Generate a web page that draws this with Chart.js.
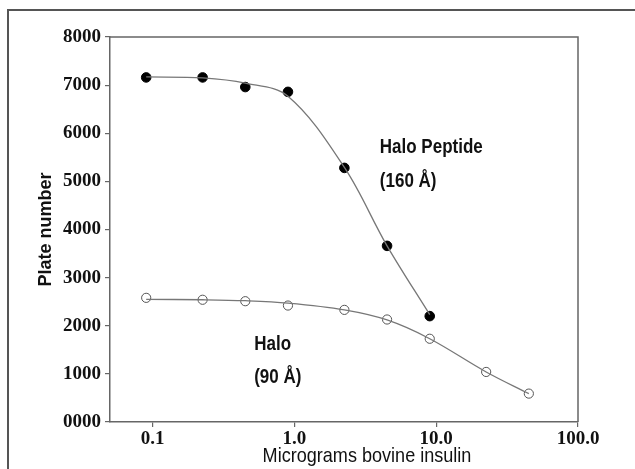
<!DOCTYPE html>
<html><head><meta charset="utf-8">
<script src="https://cdn.jsdelivr.net/npm/chart.js@4.4.1/dist/chart.umd.min.js"></script>
<style>
html,body{margin:0;padding:0;background:#fff;overflow:hidden}
#wrap{position:relative;width:635px;height:469px;overflow:hidden}
#frame{position:absolute;left:7px;top:9px;width:700px;height:600px;border-left:2px solid #555;border-top:2px solid #555;pointer-events:none}
canvas{position:absolute;left:0;top:0}
</style></head><body>
<div id="wrap"><canvas id="c" width="635" height="469"></canvas><div id="frame"></div></div>
<script>
// ---- data ----
const peptideX = [0.09, 0.225, 0.45, 0.9, 2.25, 4.5, 9.0];
const peptideMeasured = [7160, 7160, 6960, 6860, 5280, 3660, 2200];
const peptideFit = [7170, 7150, 7040, 6770, 5290, 3660, 2230];
const haloX = [0.09, 0.225, 0.45, 0.9, 2.25, 4.5, 9.0, 22.5, 45];
const haloMeasured = [2580, 2540, 2510, 2420, 2330, 2130, 1730, 1040, 590];
const haloFit = [2550, 2540, 2520, 2470, 2330, 2120, 1730, 1040, 590];
const xTickValues = [0.1, 1, 10, 100];
const xTickLabels = ['0.1', '1.0', '10.0', '100.0'];
const yTickValues = [0, 1000, 2000, 3000, 4000, 5000, 6000, 7000, 8000];
const yTickLabels = ['0000', '1000', '2000', '3000', '4000', '5000', '6000', '7000', '8000'];
const annotationTexts = ['Halo Peptide', '(160 Å)', 'Halo', '(90 Å)'];
const xTitle = 'Micrograms bovine insulin';
const yTitle = 'Plate number';

const pts = (xs, ys) => xs.map((x, i) => ({x: x, y: ys[i]}));

const SANS = '"Liberation Sans",Arial,sans-serif';
const SERIF = '"Liberation Serif","DejaVu Serif",serif';

// draws text narrowed horizontally to imitate the condensed face of the original
function condensedText(ctx, text, x, y, font, align, squeeze) {
  ctx.save();
  ctx.font = font;
  ctx.textAlign = align;
  ctx.textBaseline = 'middle';
  ctx.translate(x, y);
  ctx.scale(squeeze, 1);
  ctx.fillText(text, 0, 0);
  ctx.restore();
}

const frameAndText = {
  id: 'frameAndText',
  afterDraw(chart) {
    const {ctx, chartArea: a, scales} = chart;
    ctx.save();
    ctx.strokeStyle = '#666';
    ctx.lineWidth = 1.5;
    ctx.beginPath();
    ctx.moveTo(a.left, a.top); ctx.lineTo(a.right, a.top); ctx.lineTo(a.right, a.bottom);
    ctx.stroke();
    ctx.fillStyle = '#111';
    // annotations anchored in data space
    const anchors = [[4.0, 5700], [4.0, 4990], [0.52, 1620], [0.52, 935]];
    annotationTexts.forEach((t, i) => {
      condensedText(ctx, t, scales.x.getPixelForValue(anchors[i][0]), scales.y.getPixelForValue(anchors[i][1]),
                    'bold 20px ' + SANS, 'left', 0.85);
    });
    // x axis title
    condensedText(ctx, xTitle, (a.left + a.right) / 2 + 23, 456, '500 21px ' + SANS, 'center', 0.86);
    ctx.restore();
  }
};

new Chart(document.getElementById('c'), {
  type: 'scatter',
  data: {
    datasets: [
      {label: 'Halo Peptide fit', data: pts(peptideX, peptideFit), showLine: true, tension: 0.35,
       borderColor: '#777', borderWidth: 1.3, pointRadius: 0, fill: false},
      {label: 'Halo fit', data: pts(haloX, haloFit), showLine: true, tension: 0.35,
       borderColor: '#777', borderWidth: 1.3, pointRadius: 0, fill: false},
      {label: 'Halo Peptide (160 Å)', data: pts(peptideX, peptideMeasured), showLine: false,
       pointRadius: 4.8, backgroundColor: '#000', borderColor: '#000', borderWidth: 1},
      {label: 'Halo (90 Å)', data: pts(haloX, haloMeasured), showLine: false,
       pointRadius: 4.6, backgroundColor: '#fff', borderColor: '#555', borderWidth: 1}
    ]
  },
  options: {
    responsive: false,
    devicePixelRatio: 1,
    animation: false,
    layout: {padding: {top: 37, right: 57, left: 0, bottom: 0}},
    plugins: {legend: {display: false}, tooltip: {enabled: false}},
    scales: {
      x: {
        type: 'logarithmic', min: 0.05, max: 100,
        afterBuildTicks: s => { s.ticks = xTickValues.map(v => ({value: v})); },
        afterFit: s => { s.height = 47; },
        ticks: {callback: (v) => xTickLabels[xTickValues.indexOf(v)], color: '#111',
                font: {family: SERIF, size: 19, weight: 'bold'}, padding: 1, maxRotation: 0, autoSkip: false},
        grid: {display: true, drawOnChartArea: false, drawTicks: true, tickLength: 5, color: '#666', lineWidth: 1.2},
        border: {display: true, color: '#666', width: 1.5},
        title: {display: false}
      },
      y: {
        min: 0, max: 8000,
        afterBuildTicks: s => { s.ticks = yTickValues.map(v => ({value: v})); },
        afterFit: s => { s.width = 110; },
        ticks: {callback: (v) => yTickLabels[yTickValues.indexOf(v)], color: '#111',
                font: {family: SERIF, size: 19, weight: 'bold'}, padding: 4},
        grid: {display: true, drawOnChartArea: false, drawTicks: true, tickLength: 5, color: '#666', lineWidth: 1.2},
        border: {display: true, color: '#666', width: 1.5},
        title: {display: true, text: yTitle, color: '#111', font: {family: SANS, size: 18, weight: 'bold'},
                padding: {top: 35, bottom: 0}}
      }
    }
  },
  plugins: [frameAndText]
});
</script>
</body></html>
